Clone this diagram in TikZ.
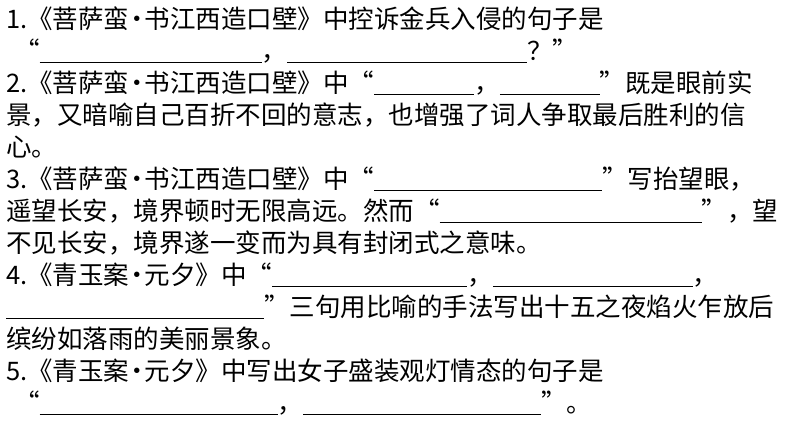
\documentclass[tikz,border=0pt]{standalone}
\usepackage{fontspec}
\setmainfont{Noto Sans CJK SC}
\newcommand{\blank}[1]{\rule[-3pt]{#1pt}{0.7pt}}
\newcommand{\md}{\kern-5pt·\kern-5pt}
\begin{document}
\begin{tikzpicture}[x=1pt,y=-1pt,ln/.style={anchor=base west,inner sep=0pt,font=\fontsize{25.5}{28}\selectfont}]
\useasboundingbox[fill=white] (0,0) rectangle (794,447);
\node[ln] (l1) at (6,28) {1.《菩萨蛮\md 书江西造口壁》中控诉金兵入侵的句子是};
\node[ln] (l2) at (14,60) {“\blank{222}，\blank{240}？”};
\node[ln] (l3) at (6,92) {2.《菩萨蛮\md 书江西造口壁》中“\blank{100}，\blank{100}”既是眼前实};
\node[ln] (l4) at (6,124) {景，又暗喻自己百折不回的意志，也增强了词人争取最后胜利的信};
\node[ln] (l5) at (6,156) {心。};
\node[ln] (l6) at (6,188) {3.《菩萨蛮\md 书江西造口壁》中“\blank{228}”写抬望眼，};
\node[ln] (l7) at (6,220) {遥望长安，境界顿时无限高远。然而“\blank{262}”，望};
\node[ln] (l8) at (6,252) {不见长安，境界遂一变而为具有封闭式之意味。};
\node[ln] (l9) at (6,284) {4.《青玉案\md 元夕》中“\blank{195}，\blank{200}，};
\node[ln] (l10) at (6,316) {\blank{258}”三句用比喻的手法写出十五之夜焰火乍放后};
\node[ln] (l11) at (6,348) {缤纷如落雨的美丽景象。};
\node[ln] (l12) at (6,380) {5.《青玉案\md 元夕》中写出女子盛装观灯情态的句子是};
\node[ln] (l13) at (14,412) {“\blank{238}，\blank{238}”。};
\end{tikzpicture}
\end{document}
